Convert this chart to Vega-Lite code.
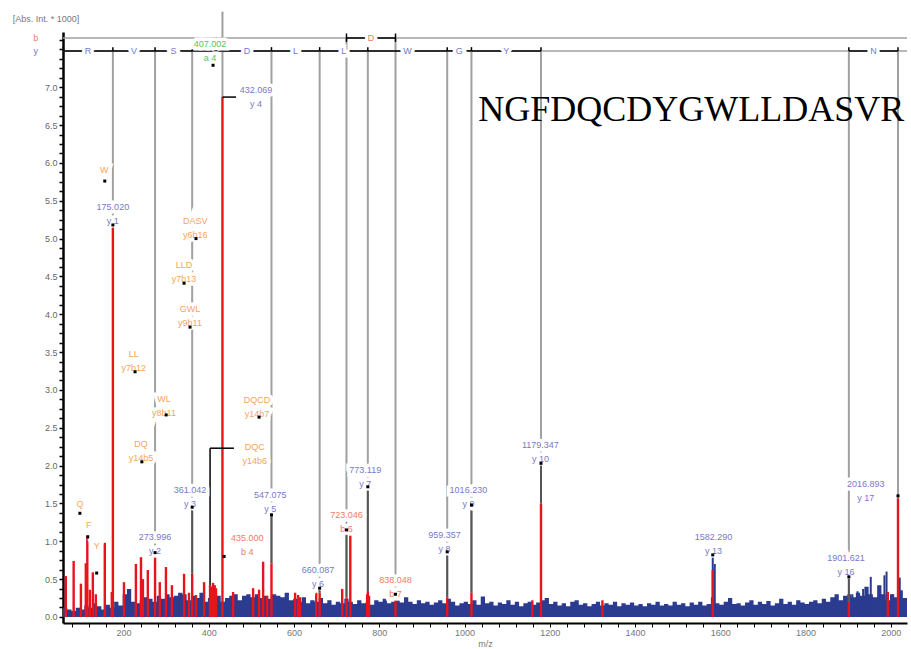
{
  "$schema": "https://vega.github.io/schema/vega-lite/v6.json",
  "width": 844,
  "height": 591,
  "autosize": {"type": "none"},
  "padding": {"left": 63, "top": 32, "right": 4, "bottom": 26},
  "background": "white",
  "config": {"view": {"stroke": null}, "axis": {"grid": false, "labelOverlap": false}},
  "datasets": {
    "noise": [
      {"mz":58,"i":0.12},{"mz":68,"i":0.1},{"mz":78,"i":0.08},{"mz":88,"i":0.12},{"mz":98,"i":0.1},{"mz":108,"i":0.15},{"mz":118,"i":0.12},{"mz":128,"i":0.18},{"mz":138,"i":0.14},{"mz":148,"i":0.1},
      {"mz":158,"i":0.16},{"mz":168,"i":0.12},{"mz":178,"i":0.2},{"mz":188,"i":0.15},{"mz":198,"i":0.3},{"mz":208,"i":0.37},{"mz":218,"i":0.2},{"mz":228,"i":0.18},{"mz":238,"i":0.22},{"mz":248,"i":0.26},
      {"mz":258,"i":0.24},{"mz":268,"i":0.2},{"mz":278,"i":0.28},{"mz":288,"i":0.24},{"mz":298,"i":0.3},{"mz":308,"i":0.26},{"mz":318,"i":0.28},{"mz":328,"i":0.32},{"mz":338,"i":0.3},{"mz":348,"i":0.22},
      {"mz":358,"i":0.28},{"mz":368,"i":0.25},{"mz":378,"i":0.32},{"mz":388,"i":0.2},{"mz":398,"i":0.25},{"mz":408,"i":0.3},{"mz":418,"i":0.28},{"mz":428,"i":0.2},{"mz":438,"i":0.25},{"mz":448,"i":0.28},
      {"mz":458,"i":0.3},{"mz":468,"i":0.22},{"mz":478,"i":0.28},{"mz":488,"i":0.3},{"mz":498,"i":0.26},{"mz":508,"i":0.3},{"mz":518,"i":0.25},{"mz":528,"i":0.28},{"mz":538,"i":0.24},{"mz":548,"i":0.3},
      {"mz":558,"i":0.28},{"mz":568,"i":0.26},{"mz":578,"i":0.32},{"mz":588,"i":0.22},{"mz":598,"i":0.24},{"mz":608,"i":0.2},{"mz":618,"i":0.26},{"mz":628,"i":0.18},{"mz":638,"i":0.22},{"mz":648,"i":0.2},
      {"mz":658,"i":0.25},{"mz":668,"i":0.18},{"mz":678,"i":0.22},{"mz":688,"i":0.16},{"mz":698,"i":0.2},{"mz":708,"i":0.18},{"mz":718,"i":0.24},{"mz":728,"i":0.2},{"mz":738,"i":0.17},{"mz":748,"i":0.22},
      {"mz":758,"i":0.18},{"mz":768,"i":0.2},{"mz":778,"i":0.16},{"mz":788,"i":0.22},{"mz":798,"i":0.2},{"mz":808,"i":0.24},{"mz":818,"i":0.18},{"mz":828,"i":0.2},{"mz":838,"i":0.22},{"mz":848,"i":0.19},
      {"mz":858,"i":0.26},{"mz":868,"i":0.2},{"mz":878,"i":0.17},{"mz":888,"i":0.22},{"mz":898,"i":0.18},{"mz":908,"i":0.2},{"mz":918,"i":0.16},{"mz":928,"i":0.19},{"mz":938,"i":0.22},{"mz":948,"i":0.18},
      {"mz":958,"i":0.24},{"mz":968,"i":0.2},{"mz":978,"i":0.15},{"mz":988,"i":0.18},{"mz":998,"i":0.2},{"mz":1008,"i":0.17},{"mz":1018,"i":0.22},{"mz":1028,"i":0.16},{"mz":1038,"i":0.27},{"mz":1048,"i":0.18},
      {"mz":1058,"i":0.2},{"mz":1068,"i":0.15},{"mz":1078,"i":0.19},{"mz":1088,"i":0.17},{"mz":1098,"i":0.22},{"mz":1108,"i":0.16},{"mz":1118,"i":0.2},{"mz":1128,"i":0.14},{"mz":1138,"i":0.18},{"mz":1148,"i":0.2},
      {"mz":1158,"i":0.16},{"mz":1168,"i":0.19},{"mz":1178,"i":0.22},{"mz":1188,"i":0.25},{"mz":1198,"i":0.17},{"mz":1208,"i":0.2},{"mz":1218,"i":0.15},{"mz":1228,"i":0.18},{"mz":1238,"i":0.14},{"mz":1248,"i":0.2},
      {"mz":1258,"i":0.22},{"mz":1268,"i":0.16},{"mz":1278,"i":0.18},{"mz":1288,"i":0.14},{"mz":1298,"i":0.17},{"mz":1308,"i":0.2},{"mz":1318,"i":0.15},{"mz":1328,"i":0.18},{"mz":1338,"i":0.16},{"mz":1348,"i":0.2},
      {"mz":1358,"i":0.14},{"mz":1368,"i":0.18},{"mz":1378,"i":0.16},{"mz":1388,"i":0.19},{"mz":1398,"i":0.15},{"mz":1408,"i":0.17},{"mz":1418,"i":0.14},{"mz":1428,"i":0.18},{"mz":1438,"i":0.16},{"mz":1448,"i":0.2},
      {"mz":1458,"i":0.15},{"mz":1468,"i":0.17},{"mz":1478,"i":0.15},{"mz":1488,"i":0.2},{"mz":1498,"i":0.16},{"mz":1508,"i":0.18},{"mz":1518,"i":0.14},{"mz":1528,"i":0.19},{"mz":1538,"i":0.16},{"mz":1548,"i":0.2},
      {"mz":1558,"i":0.15},{"mz":1568,"i":0.17},{"mz":1578,"i":0.26},{"mz":1588,"i":0.18},{"mz":1598,"i":0.16},{"mz":1608,"i":0.2},{"mz":1618,"i":0.25},{"mz":1628,"i":0.17},{"mz":1638,"i":0.18},{"mz":1648,"i":0.15},
      {"mz":1658,"i":0.19},{"mz":1668,"i":0.22},{"mz":1678,"i":0.16},{"mz":1688,"i":0.2},{"mz":1698,"i":0.17},{"mz":1708,"i":0.21},{"mz":1718,"i":0.15},{"mz":1728,"i":0.18},{"mz":1738,"i":0.24},{"mz":1748,"i":0.17},
      {"mz":1758,"i":0.2},{"mz":1768,"i":0.16},{"mz":1778,"i":0.22},{"mz":1788,"i":0.19},{"mz":1798,"i":0.17},{"mz":1808,"i":0.2},{"mz":1818,"i":0.22},{"mz":1828,"i":0.18},{"mz":1838,"i":0.24},{"mz":1848,"i":0.2},
      {"mz":1858,"i":0.26},{"mz":1868,"i":0.3},{"mz":1878,"i":0.22},{"mz":1888,"i":0.28},{"mz":1898,"i":0.3},{"mz":1908,"i":0.26},{"mz":1918,"i":0.32},{"mz":1928,"i":0.28},{"mz":1938,"i":0.4},{"mz":1948,"i":0.3},
      {"mz":1958,"i":0.26},{"mz":1968,"i":0.42},{"mz":1978,"i":0.3},{"mz":1988,"i":0.22},{"mz":1998,"i":0.3},{"mz":2008,"i":0.26},{"mz":2018,"i":0.35},{"mz":2028,"i":0.25},{"mz":2038,"i":0.15}
    ],
    "spikes": [
      {"mz":1582.29,"i":0.79},{"mz":1587,"i":0.7},{"mz":1910,"i":0.3},{"mz":1922,"i":0.34},{"mz":1935,"i":0.37},{"mz":1944,"i":0.33},{"mz":1953,"i":0.53},{"mz":1985,"i":0.55},{"mz":1990,"i":0.6},{"mz":2004,"i":0.3},{"mz":2021,"i":0.52},{"mz":2025,"i":0.35}
    ],
    "peaks": [
      {"mz":64.6,"i":0.54},{"mz":83,"i":0.74},{"mz":100,"i":0.44},{"mz":111.5,"i":0.71},{"mz":115,"i":1.05},{"mz":121,"i":0.36},{"mz":128,"i":0.59},{"mz":135,"i":0.3},{"mz":156,"i":0.98},{"mz":172.5,"i":0.33},
      {"mz":175.02,"i":5.18},{"mz":201,"i":0.46},{"mz":229,"i":0.7},{"mz":241,"i":0.79},{"mz":245.5,"i":0.5},{"mz":257,"i":0.62},{"mz":273.996,"i":0.84},{"mz":285,"i":0.46},{"mz":299.5,"i":0.66},{"mz":313.5,"i":0.42},
      {"mz":342,"i":0.57},{"mz":353.5,"i":0.32},{"mz":361.042,"i":0.57},{"mz":370,"i":0.29},{"mz":389,"i":0.46},{"mz":403,"i":0.42},{"mz":407,"i":0.4},{"mz":410,"i":0.45},{"mz":414,"i":0.42},{"mz":417,"i":0.38},
      {"mz":432.069,"i":6.87},{"mz":457,"i":0.33},{"mz":504,"i":0.38},{"mz":518,"i":0.36},{"mz":527.5,"i":0.73},{"mz":537,"i":0.28},{"mz":547.076,"i":0.71},{"mz":602.5,"i":0.32},{"mz":609.5,"i":0.29},{"mz":614,"i":0.26},
      {"mz":652,"i":0.32},{"mz":660.087,"i":0.32},{"mz":713,"i":0.37},{"mz":723.046,"i":0.26},{"mz":732,"i":1.08},{"mz":771.5,"i":0.3},{"mz":773.119,"i":0.33},{"mz":776,"i":0.28},{"mz":838.048,"i":0.22},{"mz":959.357,"i":0.26},
      {"mz":1016.23,"i":0.32},{"mz":1159,"i":0.22},{"mz":1179.347,"i":1.5},{"mz":1323.5,"i":0.22},{"mz":1582.29,"i":0.62},{"mz":1901.621,"i":0.2},{"mz":1993,"i":0.33},{"mz":2016.893,"i":1.57}
    ],
    "yions": [
      {"mz":175.02,"top":5.18},{"mz":273.996,"top":0.84},{"mz":361.042,"top":0.57},{"mz":547.076,"top":0.71},{"mz":660.087,"top":0.32},{"mz":773.119,"top":0.33},
      {"mz":959.357,"top":0.26},{"mz":1016.23,"top":0.32},{"mz":1179.347,"top":1.5},{"mz":1901.621,"top":0.2},{"mz":2016.893,"top":1.57}
    ],
    "bions": [{"mz":723.046,"top":0.26},{"mz":838.048,"top":0.22}],
    "segs": [
      {"mz":361.042,"lo":0.57,"hi":1.45},{"mz":547.076,"lo":0.71,"hi":1.35},{"mz":660.087,"lo":0.32,"hi":0.38},{"mz":723.046,"lo":0.26,"hi":1.15},
      {"mz":773.119,"lo":0.33,"hi":1.72},{"mz":838.048,"lo":0.22,"hi":0.3},{"mz":959.357,"lo":0.26,"hi":0.86},{"mz":1016.23,"lo":0.32,"hi":1.48},
      {"mz":1179.347,"lo":1.5,"hi":2.03},{"mz":1582.29,"lo":0.79,"hi":0.82},{"mz":1901.621,"lo":0.2,"hi":0.53}
    ],
    "connectors": [
      {"x1":432.069,"x2":464,"y1":6.87,"y2":6.87},
      {"x1":403,"x2":459,"y1":2.23,"y2":2.23},
      {"x1":403,"x2":403,"y1":0.42,"y2":2.23}
    ],
    "ybrackets": [
      {"from":58,"to":175.02,"mid":116.5,"letter":"R"},
      {"from":175.02,"to":273.996,"mid":224.5,"letter":"V"},
      {"from":273.996,"to":361.042,"mid":317.5,"letter":"S"},
      {"from":361.042,"to":432.069,"mid":396.6,"letter":""},
      {"from":432.069,"to":547.076,"mid":489.6,"letter":"D"},
      {"from":547.076,"to":660.087,"mid":603.6,"letter":"L"},
      {"from":660.087,"to":773.119,"mid":716.6,"letter":"L"},
      {"from":773.119,"to":959.357,"mid":866.2,"letter":"W"},
      {"from":959.357,"to":1016.23,"mid":987.8,"letter":"G"},
      {"from":1016.23,"to":1179.347,"mid":1097.8,"letter":"Y"},
      {"from":1901.621,"to":2016.893,"mid":1959.3,"letter":"N"}
    ],
    "bbrackets": [{"from":723.046,"to":838.048,"mid":780.5,"letter":"D"}],
    "yticks": [{"mz":59},{"mz":175.02},{"mz":273.996},{"mz":361.042},{"mz":432.069},{"mz":547.076},{"mz":660.087},{"mz":773.119},{"mz":959.357},{"mz":1016.23},{"mz":1179.347},{"mz":1901.621},{"mz":2016.893}],
    "bticks": [{"mz":723.046},{"mz":838.048}],
    "labels": [
      {"mz":175,"y":5.42,"text":"175.020\ny 1","kind":"y"},
      {"mz":274,"y":1.06,"text":"273.996\ny 2","kind":"y"},
      {"mz":356,"y":1.68,"text":"361.042\ny 3","kind":"y"},
      {"mz":511,"y":6.96,"text":"432.069\ny 4","kind":"y"},
      {"mz":490,"y":1.04,"text":"435.000\nb 4","kind":"b"},
      {"mz":544,"y":1.61,"text":"547.075\ny 5","kind":"y"},
      {"mz":656,"y":0.62,"text":"660.087\ny 6","kind":"y"},
      {"mz":723,"y":1.35,"text":"723.046\nb 6","kind":"b"},
      {"mz":767,"y":1.94,"text":"773.119\ny 7","kind":"y"},
      {"mz":838,"y":0.49,"text":"838.048\nb 7","kind":"b"},
      {"mz":953,"y":1.08,"text":"959.357\ny 8","kind":"y"},
      {"mz":1009,"y":1.68,"text":"1016.230\ny 9","kind":"y"},
      {"mz":1178,"y":2.27,"text":"1179.347\ny 10","kind":"y"},
      {"mz":1584,"y":1.06,"text":"1582.290\ny 13","kind":"y"},
      {"mz":1895,"y":0.78,"text":"1901.621\ny 16","kind":"y"},
      {"mz":1941,"y":1.76,"text":"2016.893\ny 17","kind":"y"},
      {"mz":403,"y":7.57,"text":"407.002\na 4","kind":"a"},
      {"mz":155,"y":5.9,"text":"W","kind":"int"},
      {"mz":368,"y":5.23,"text":"DASV\ny6b16","kind":"int"},
      {"mz":342,"y":4.65,"text":"LLD\ny7b13","kind":"int"},
      {"mz":356,"y":4.07,"text":"GWL\ny9b11","kind":"int"},
      {"mz":224,"y":3.47,"text":"LL\ny7b12","kind":"int"},
      {"mz":295,"y":2.88,"text":"WL\ny8b11","kind":"int"},
      {"mz":513,"y":2.87,"text":"DQCD\ny14b7","kind":"int"},
      {"mz":241,"y":2.29,"text":"DQ\ny14b5","kind":"int"},
      {"mz":508,"y":2.25,"text":"DQC\ny14b6","kind":"int"},
      {"mz":97.6,"y":1.49,"text":"Q","kind":"int"},
      {"mz":118.7,"y":1.22,"text":"F","kind":"int"},
      {"mz":137,"y":0.94,"text":"Y","kind":"int"}
    ],
    "dots": [
      {"mz":156,"y":5.76},{"mz":370,"y":5.0},{"mz":342,"y":4.41},{"mz":356,"y":3.83},{"mz":227,"y":3.24},{"mz":300,"y":2.67},{"mz":518,"y":2.64},{"mz":243,"y":2.05},
      {"mz":97.6,"y":1.37},{"mz":116,"y":1.06},{"mz":137,"y":0.58},{"mz":436,"y":0.8},{"mz":410,"y":7.29},{"mz":175.02,"y":5.18},{"mz":273.996,"y":0.85},{"mz":361.042,"y":1.45},
      {"mz":547.076,"y":1.35},{"mz":660.087,"y":0.38},{"mz":723.046,"y":1.15},{"mz":773.119,"y":1.72},{"mz":838.048,"y":0.3},{"mz":959.357,"y":0.86},{"mz":1016.23,"y":1.48},
      {"mz":1179.347,"y":2.03},{"mz":1582.29,"y":0.82},{"mz":1901.621,"y":0.53},{"mz":2016.893,"y":1.6}
    ],
    "rowlabels": [{"mz":-6,"y":7.65,"text":"b","kind":"b"},{"mz":-6,"y":7.48,"text":"y","kind":"y"}],
    "heading": [{"mz":-60,"y":7.9,"text":"[Abs. Int. * 1000]"}],
    "seq": [{"mz":1032,"y":6.55,"text":"NGFDQCDYGWLLDASVR"}]
  },
  "layer": [
    {
      "data": {"name": "noise"},
      "mark": {"type": "area", "interpolate": "step-after", "color": "#2b3b8f"},
      "encoding": {
        "x": {"field": "mz", "type": "quantitative", "scale": {"domain": [58, 2038], "nice": false, "zero": false},
          "axis": {"title": "m/z", "tickCount": 1000, "values": [80,120,160,200,240,280,320,360,400,440,480,520,560,600,640,680,720,760,800,840,880,920,960,1000,1040,1080,1120,1160,1200,1240,1280,1320,1360,1400,1440,1480,1520,1560,1600,1640,1680,1720,1760,1800,1840,1880,1920,1960,2000],
            "labelExpr": "datum.value % 200 == 0 ? format(datum.value, 'd') : ''", "labelOverlap": false,
            "domainColor": "black", "domainWidth": 2, "tickColor": "black", "tickWidth": 1, "tickSize": 4,
            "labelFont": "Liberation Sans", "labelFontSize": 9, "labelColor": "#777777", "labelPadding": 1,
            "titleFont": "Liberation Sans", "titleFontSize": 9, "titleColor": "#777777", "titleFontWeight": "normal", "titlePadding": 2}},
        "y": {"field": "i", "type": "quantitative", "scale": {"domain": [-0.08, 7.73], "nice": false, "zero": false},
          "axis": {"title": null, "tickCount": 1000, "values": [0,0.125,0.25,0.375,0.5,0.625,0.75,0.875,1,1.125,1.25,1.375,1.5,1.625,1.75,1.875,2,2.125,2.25,2.375,2.5,2.625,2.75,2.875,3,3.125,3.25,3.375,3.5,3.625,3.75,3.875,4,4.125,4.25,4.375,4.5,4.625,4.75,4.875,5,5.125,5.25,5.375,5.5,5.625,5.75,5.875,6,6.125,6.25,6.375,6.5,6.625,6.75,6.875,7,7.125,7.25,7.375,7.5,7.625],
            "labelExpr": "(datum.value * 2 == round(datum.value * 2) && datum.value <= 7) ? format(datum.value, '.1f') : ''", "labelOverlap": false,
            "domainColor": "black", "domainWidth": 2.5, "tickColor": "black", "tickWidth": 1.5, "tickSize": 4,
            "labelFont": "Liberation Sans", "labelFontSize": 9, "labelColor": "#666666", "labelPadding": 2}},
        "y2": {"datum": 0}
      }
    },
    {
      "data": {"name": "spikes"},
      "mark": {"type": "rule", "color": "#2b3b8f", "strokeWidth": 2},
      "encoding": {
        "x": {"field": "mz", "type": "quantitative", "scale": {"domain": [58, 2038], "nice": false, "zero": false}},
        "y": {"field": "i", "type": "quantitative", "scale": {"domain": [-0.08, 7.73], "nice": false, "zero": false}},
        "y2": {"datum": 0}
      }
    },
    {
      "data": {"name": "peaks"},
      "mark": {"type": "rule", "color": "#e8141c", "strokeWidth": 2.4},
      "encoding": {
        "x": {"field": "mz", "type": "quantitative"},
        "y": {"field": "i", "type": "quantitative"},
        "y2": {"datum": 0}
      }
    },
    {
      "data": {"name": "yions"},
      "mark": {"type": "rule", "color": "#a0a0a0", "strokeWidth": 2},
      "encoding": {
        "x": {"field": "mz", "type": "quantitative"},
        "y": {"field": "top", "type": "quantitative"},
        "y2": {"datum": 7.48}
      }
    },
    {
      "data": {"name": "bions"},
      "mark": {"type": "rule", "color": "#a0a0a0", "strokeWidth": 2},
      "encoding": {
        "x": {"field": "mz", "type": "quantitative"},
        "y": {"field": "top", "type": "quantitative"},
        "y2": {"datum": 7.65}
      }
    },
    {
      "data": {"values": [{"mz": 432.069, "top": 6.87}]},
      "mark": {"type": "rule", "color": "#a0a0a0", "strokeWidth": 2, "clip": false},
      "encoding": {
        "x": {"field": "mz", "type": "quantitative"},
        "y": {"field": "top", "type": "quantitative"},
        "y2": {"datum": 8.0}
      }
    },
    {
      "data": {"values": [{"row": 7.48}, {"row": 7.65}]},
      "mark": {"type": "rule", "color": "#a0a0a0", "strokeWidth": 1.5},
      "encoding": {
        "y": {"field": "row", "type": "quantitative"},
        "x": {"datum": 58},
        "x2": {"datum": 2038}
      }
    },
    {
      "data": {"name": "ybrackets"},
      "mark": {"type": "rule", "color": "black", "strokeWidth": 1.5},
      "encoding": {
        "x": {"field": "from", "type": "quantitative"},
        "x2": {"field": "to"},
        "y": {"datum": 7.48}
      }
    },
    {
      "data": {"name": "bbrackets"},
      "mark": {"type": "rule", "color": "black", "strokeWidth": 1.5},
      "encoding": {
        "x": {"field": "from", "type": "quantitative"},
        "x2": {"field": "to"},
        "y": {"datum": 7.65}
      }
    },
    {
      "data": {"name": "yticks"},
      "mark": {"type": "rule", "color": "black", "strokeWidth": 1.5},
      "encoding": {
        "x": {"field": "mz", "type": "quantitative"},
        "y": {"datum": 7.48},
        "y2": {"datum": 7.53}
      }
    },
    {
      "data": {"name": "bticks"},
      "mark": {"type": "rule", "color": "black", "strokeWidth": 1.5},
      "encoding": {
        "x": {"field": "mz", "type": "quantitative"},
        "y": {"datum": 7.6},
        "y2": {"datum": 7.71}
      }
    },
    {
      "data": {"name": "segs"},
      "mark": {"type": "rule", "color": "#555555", "strokeWidth": 2},
      "encoding": {
        "x": {"field": "mz", "type": "quantitative"},
        "y": {"field": "lo", "type": "quantitative"},
        "y2": {"field": "hi"}
      }
    },
    {
      "data": {"name": "connectors"},
      "mark": {"type": "rule", "color": "black", "strokeWidth": 1.5},
      "encoding": {
        "x": {"field": "x1", "type": "quantitative"},
        "x2": {"field": "x2"},
        "y": {"field": "y1", "type": "quantitative"},
        "y2": {"field": "y2"}
      }
    },
    {
      "data": {"name": "ybrackets"},
      "mark": {"type": "text", "font": "Liberation Sans", "fontSize": 9, "align": "center", "baseline": "middle", "color": "white", "stroke": "white", "strokeWidth": 7},
      "encoding": {
        "x": {"field": "mid", "type": "quantitative"},
        "y": {"datum": 7.48},
        "text": {"field": "letter"}
      }
    },
    {
      "data": {"name": "ybrackets"},
      "mark": {"type": "text", "font": "Liberation Sans", "fontSize": 9, "align": "center", "baseline": "middle", "color": "#7a78c8"},
      "encoding": {
        "x": {"field": "mid", "type": "quantitative"},
        "y": {"datum": 7.48},
        "text": {"field": "letter"}
      }
    },
    {
      "data": {"name": "bbrackets"},
      "mark": {"type": "text", "font": "Liberation Sans", "fontSize": 9, "align": "center", "baseline": "middle", "color": "white", "stroke": "white", "strokeWidth": 7},
      "encoding": {
        "x": {"field": "mid", "type": "quantitative"},
        "y": {"datum": 7.65},
        "text": {"field": "letter"}
      }
    },
    {
      "data": {"name": "bbrackets"},
      "mark": {"type": "text", "font": "Liberation Sans", "fontSize": 9, "align": "center", "baseline": "middle", "color": "#f07a6a"},
      "encoding": {
        "x": {"field": "mid", "type": "quantitative"},
        "y": {"datum": 7.65},
        "text": {"field": "letter"}
      }
    },
    {
      "data": {"name": "labels"},
      "mark": {"type": "text", "font": "Liberation Sans", "fontSize": 9, "lineBreak": "\n", "lineHeight": 14, "align": "center", "baseline": "middle", "color": "white", "stroke": "white", "strokeWidth": 7},
      "encoding": {
        "x": {"field": "mz", "type": "quantitative"},
        "y": {"field": "y", "type": "quantitative"},
        "text": {"field": "text"}
      }
    },
    {
      "data": {"name": "labels"},
      "mark": {"type": "text", "font": "Liberation Sans", "fontSize": 9, "lineBreak": "\n", "lineHeight": 14, "align": "center", "baseline": "middle"},
      "encoding": {
        "x": {"field": "mz", "type": "quantitative"},
        "y": {"field": "y", "type": "quantitative"},
        "text": {"field": "text"},
        "color": {"field": "kind", "type": "nominal", "scale": {"domain": ["y", "b", "int", "a"], "range": ["#7a78c8", "#f07a6a", "#f5a55a", "#5cbf5c"]}, "legend": null}
      }
    },
    {
      "data": {"name": "rowlabels"},
      "mark": {"type": "text", "font": "Liberation Sans", "fontSize": 9, "align": "center", "baseline": "middle", "clip": false},
      "encoding": {
        "x": {"field": "mz", "type": "quantitative"},
        "y": {"field": "y", "type": "quantitative"},
        "text": {"field": "text"},
        "color": {"field": "kind", "type": "nominal", "legend": null}
      }
    },
    {
      "data": {"name": "heading"},
      "mark": {"type": "text", "font": "Liberation Sans", "fontSize": 9, "align": "left", "baseline": "middle", "color": "#777777", "clip": false},
      "encoding": {
        "x": {"field": "mz", "type": "quantitative"},
        "y": {"field": "y", "type": "quantitative"},
        "text": {"field": "text"}
      }
    },
    {
      "data": {"name": "dots"},
      "mark": {"type": "square", "color": "black", "filled": true, "size": 9, "opacity": 1},
      "encoding": {
        "x": {"field": "mz", "type": "quantitative"},
        "y": {"field": "y", "type": "quantitative"}
      }
    },
    {
      "data": {"name": "seq"},
      "mark": {"type": "text", "font": "Liberation Serif", "fontSize": 36, "align": "left", "baseline": "alphabetic", "color": "black"},
      "encoding": {
        "x": {"field": "mz", "type": "quantitative"},
        "y": {"field": "y", "type": "quantitative"},
        "text": {"field": "text"}
      }
    }
  ]
}
